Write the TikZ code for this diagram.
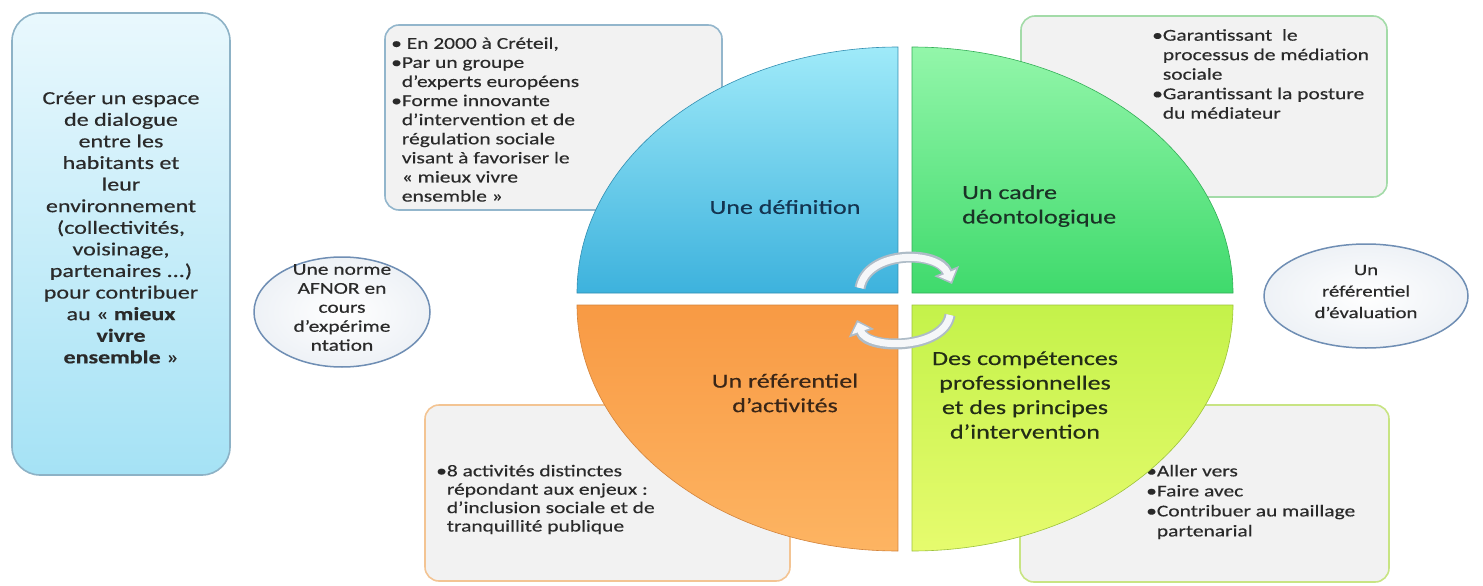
\documentclass[tikz,border=0pt]{standalone}
\usepackage{fontspec}
\setmainfont{Carlito}[FakeStretch=1.3, FakeBold=0.4]
\usetikzlibrary{arrows.meta,shapes.geometric}
\definecolor{boxfill}{HTML}{F2F2F2}
\definecolor{txt}{HTML}{2A2A2A}
\definecolor{tlborder}{HTML}{93B6CC}
\definecolor{blborder}{HTML}{F3C493}
\definecolor{trborder}{HTML}{A3DBA8}
\definecolor{brborder}{HTML}{C8E483}
\definecolor{leftborder}{HTML}{8DB2C6}
\definecolor{lefttop}{HTML}{E9F8FD}
\definecolor{leftbot}{HTML}{A5E2F5}
\definecolor{ellborder}{HTML}{6F8EB4}
\definecolor{bluetop}{HTML}{9FEAF9}
\definecolor{bluebot}{HTML}{3DB2DD}
\definecolor{greentop}{HTML}{93F6AA}
\definecolor{greenbot}{HTML}{3FDA6C}
\definecolor{orangetop}{HTML}{F89A44}
\definecolor{orangebot}{HTML}{FDB462}
\definecolor{yellowtop}{HTML}{C4F24A}
\definecolor{yellowbot}{HTML}{E6FB6E}
\definecolor{bluetxt}{HTML}{143450}
\definecolor{greentxt}{HTML}{1A3326}
\definecolor{orangetxt}{HTML}{3A2617}
\definecolor{yellowtxt}{HTML}{232D16}
\definecolor{arrowedge}{HTML}{AEBCC7}
\definecolor{arrowfill}{HTML}{F5F7F9}
\tikzset{
  infobox/.style={draw, line width=1.6pt, rounded corners=14pt, fill=boxfill, inner sep=0pt},
  boxtext/.style={anchor=west, align=left, inner sep=0pt, text=txt},
  quadlabel/.style={align=center, inner sep=0pt, font=\fontsize{20}{24.5}\selectfont},
  oval/.style={ellipse, draw=ellborder, line width=1.5pt, inner color=white, outer color=ellborder!12, inner sep=0pt},
  arrowouter/.style={draw=arrowedge, line width=11pt, -{Triangle[width=26pt,length=14pt]}},
  arrowinner/.style={draw=arrowfill, line width=7pt, shorten >=2.5pt, -{Triangle[width=18pt,length=9.5pt]}}
}
\begin{document}
\begin{tikzpicture}[x=1pt,y=-1pt]
\useasboundingbox (0,0) rectangle (1483,586);
\fill[white] (0,0) rectangle (1483,586);

% left box
\node[draw=leftborder, line width=1.6pt, rounded corners=28pt, top color=lefttop, bottom color=leftbot,
      minimum width=218pt, minimum height=462pt, inner sep=0pt] (leftbox) at (121,244) {};
\node[align=center, inner sep=0pt, text=txt, font=\fontsize{18.5}{21.6}\selectfont] (lefttext) at (121,227.5)
  {Créer un espace\\de dialogue\\entre les\\habitants et\\leur\\environnement\\(collectivités,\\voisinage,\\partenaires ...)\\pour contribuer\\au « \textbf{mieux}\\\textbf{vivre}\\\textbf{ensemble} »};

% info boxes (behind the circle)
\node[infobox, draw=tlborder, minimum width=337pt, minimum height=185pt] (tlbox) at (553.5,117.5) {};
\node[infobox, draw=blborder, minimum width=365pt, minimum height=176pt] (blbox) at (607.5,493) {};
\node[infobox, draw=trborder, minimum width=366pt, minimum height=181pt] (trbox) at (1204,106.5) {};
\node[infobox, draw=brborder, minimum width=369pt, minimum height=177pt] (brbox) at (1204.5,493.5) {};

\node[boxtext, font=\fontsize{16.5}{19.1}\selectfont] (tltext) at (391,119.5)
  {• En 2000 à Créteil,\\•Par un groupe\\\hphantom{•}d’experts européens\\•Forme innovante\\\hphantom{•}d’intervention et de\\\hphantom{•}régulation sociale\\\hphantom{•}visant à favoriser le\\\hphantom{•}« mieux vivre\\\hphantom{•}ensemble »};
\node[boxtext, font=\fontsize{16.5}{19.5}\selectfont] (trtext) at (1152,74)
  {•Garantissant~ le\\\hphantom{•}processus de médiation\\\hphantom{•}sociale\\•Garantissant la posture\\\hphantom{•}du médiateur};
\node[boxtext, font=\fontsize{16.5}{18.4}\selectfont] (bltext) at (436,499.5)
  {•8 activités distinctes\\\hphantom{•}répondant aux enjeux :\\\hphantom{•}d’inclusion sociale et de\\\hphantom{•}tranquillité publique};
\node[boxtext, font=\fontsize{16.5}{20}\selectfont] (brtext) at (1146,502)
  {•Aller vers\\•Faire avec\\•Contribuer au maillage\\\hphantom{•}partenarial};

% quadrants
\path[top color=bluetop, bottom color=bluebot, draw=bluebot!80!black, line width=0.6pt]
  (898,293) -- (577,293) arc[start angle=180, end angle=270, x radius=321, y radius=246] -- cycle;
\path[top color=greentop, bottom color=greenbot, draw=greenbot!80!black, line width=0.6pt]
  (912,293) -- (912,47) arc[start angle=270, end angle=360, x radius=321, y radius=246] -- cycle;
\path[top color=orangetop, bottom color=orangebot, draw=orangetop!85!black, line width=0.6pt]
  (898,305) -- (898,551) arc[start angle=90, end angle=180, x radius=321, y radius=246] -- cycle;
\path[top color=yellowtop, bottom color=yellowbot, draw=yellowtop!80!black, line width=0.6pt]
  (912,305) -- (1233,305) arc[start angle=0, end angle=90, x radius=321, y radius=246] -- cycle;

\node[quadlabel, text=bluetxt] (qdef) at (785,207) {Une définition};
\node[quadlabel, text=greentxt, align=left, anchor=west] (qcadre) at (962,206) {Un cadre\\déontologique};
\node[quadlabel, text=orangetxt] (qref) at (785,393) {Un référentiel\\d’activités};
\node[quadlabel, text=yellowtxt] (qcomp) at (1025,395) {Des compétences\\professionnelles\\et des principes\\d’intervention};

% circular arrows
\coordinate (a1s) at (860,288);
\coordinate (a1e) at (952,284);
\coordinate (a2s) at (950,315);
\coordinate (a2e) at (857,320);
\draw[arrowouter] (a1s) .. controls (867,250) and (938,250) .. (a1e);
\draw[arrowinner] (a1s) .. controls (867,250) and (938,250) .. (a1e);
\draw[arrowouter] (a2s) .. controls (944,350) and (867,350) .. (a2e);
\draw[arrowinner] (a2s) .. controls (944,350) and (867,350) .. (a2e);

% ovals
\node[oval, minimum width=176pt, minimum height=110pt] (afnor) at (342,312) {};
\node[align=center, inner sep=0pt, text=txt, font=\fontsize{16.5}{19}\selectfont] (afnortext) at (342,307.5)
  {Une norme\\AFNOR en\\cours\\d’expérime\\ntation};
\node[oval, minimum width=204pt, minimum height=104pt] (evaluation) at (1366,296) {};
\node[align=center, inner sep=0pt, text=txt, font=\fontsize{16}{21.5}\selectfont] (evaltext) at (1366,291.5)
  {Un\\référentiel\\d’évaluation};
\end{tikzpicture}
\end{document}
